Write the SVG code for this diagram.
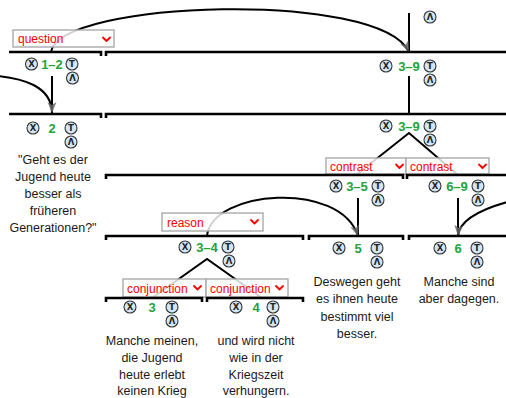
<svg xmlns="http://www.w3.org/2000/svg" width="506" height="398" viewBox="0 0 506 398">
<style>
.seg{fill:none;stroke:#000;stroke-width:2.6}
.ln{fill:none;stroke:#000;stroke-width:2}
.arc{fill:none;stroke:#000;stroke-width:2;marker-end:url(#ah)}
.ic circle{fill:#d3e6f6;stroke:#333;stroke-width:1.1}
.ic text{font-family:"DejaVu Sans",sans-serif;font-size:8.5px;font-weight:bold;fill:#222;text-anchor:middle}
.lab{font-family:"Liberation Sans",Arial,sans-serif;font-size:13px;font-weight:bold;fill:#21a33c;text-anchor:middle}
.tx{font-family:"Liberation Sans",Arial,sans-serif;font-size:12.5px;fill:#1a1a1a;text-anchor:middle}
.dd rect{fill:#fff;fill-opacity:0.82;stroke:#aaa;stroke-width:1.4}
.dd text{font-family:"Liberation Sans",Arial,sans-serif;font-size:12px;fill:#f00}
.dd path{fill:none;stroke:#f00;stroke-width:1.8;stroke-linecap:round;stroke-linejoin:round}
</style>
<defs>
<marker id="ah" markerUnits="userSpaceOnUse" markerWidth="12" markerHeight="10" refX="11" refY="4.5" orient="auto">
<path d="M0,0 L11,4.5 L0,9 L3,4.5 z" fill="#666" fill-opacity="0.85"/>
</marker>
<g id="ix" class="ic"><circle r="6"/><text y="3.1">X</text></g>
<g id="it" class="ic"><circle r="6"/><text y="3.1">T</text></g>
<g id="il" class="ic"><circle r="6"/><text y="3.1">Λ</text></g>
</defs>

<g id="connectors">
<path class="ln" d="M409,13 V52"/>
<path class="ln" d="M52,76 V114"/>
<path class="ln" d="M409,76 V114"/>
<path class="ln" d="M356,175 L409,133 L458,175"/>
<path class="ln" d="M358,198 V236"/>
<path class="ln" d="M458,198 V236"/>
<path class="ln" d="M152,298 L207,259 L262,298"/>
<path class="arc" d="M51,52 C60,0 380,-10 409,52"/>
<path class="arc" d="M-30,75 C30,74 52,90 52,113"/>
<path class="arc" d="M207,236 C212,190 340,180 358,236"/>
<path class="arc" d="M515,200 C475,210 459,222 458,236"/>
</g>

<g id="relation-labels">
<g class="dd"><rect x="13" y="30" width="101" height="17"/><text x="18" y="43">question</text><path d="M103,37.5 L106.5,41 L110,37.5"/></g>
<g class="dd"><rect x="326" y="158" width="80" height="16"/><text x="330" y="170.5">contrast</text><path d="M396,164.5 L399.5,168 L403,164.5"/></g>
<g class="dd"><rect x="406" y="158" width="83" height="16"/><text x="410" y="170.5">contrast</text><path d="M479,164.5 L482.5,168 L486,164.5"/></g>
<g class="dd"><rect x="162" y="213" width="101" height="18"/><text x="167" y="226.5">reason</text><path d="M251,220 L254.5,223.5 L258,220"/></g>
<g class="dd"><rect x="123" y="279" width="83" height="18"/><text x="127" y="292.5">conjunction</text><path d="M194,286 L197.5,289.5 L201,286"/></g>
<g class="dd"><rect x="206" y="279" width="82" height="18"/><text x="210" y="292.5">conjunction</text><path d="M276,286 L279.5,289.5 L283,286"/></g>
</g>

<g id="node-root">
<use href="#il" x="430" y="17"/>
</g>

<g id="node-1-2">
<path class="seg" d="M9,52 H101 V56"/>
<use href="#ix" x="31.5" y="64"/><text class="lab" x="52" y="68.5">1–2</text><use href="#it" x="72" y="64"/><use href="#il" x="72.5" y="78"/>
</g>

<g id="node-3-9-a">
<path class="seg" d="M106,56 V52 H506"/>
<use href="#ix" x="386" y="66"/><text class="lab" x="409" y="70.5">3–9</text><use href="#it" x="430" y="66"/><use href="#il" x="430" y="80"/>
</g>

<g id="node-2">
<path class="seg" d="M9,114 H101 V118"/>
<use href="#ix" x="33" y="128"/><text class="lab" x="52" y="132.5">2</text><use href="#it" x="71" y="128"/><use href="#il" x="71" y="142"/>
<text class="tx" x="53" y="164">"Geht es der</text>
<text class="tx" x="53" y="181">Jugend heute</text>
<text class="tx" x="53" y="198">besser als</text>
<text class="tx" x="53" y="215">früheren</text>
<text class="tx" x="53" y="232">Generationen?"</text>
</g>

<g id="node-3-9-b">
<path class="seg" d="M106,118 V114 H506"/>
<use href="#ix" x="386" y="126"/><text class="lab" x="409" y="130.5">3–9</text><use href="#it" x="430" y="126"/><use href="#il" x="430" y="140"/>
</g>

<g id="node-3-5">
<path class="seg" d="M106,179 V175 H403 V179"/>
<use href="#ix" x="336" y="186"/><text class="lab" x="357" y="190.5">3–5</text><use href="#it" x="378" y="186"/><use href="#il" x="378" y="200"/>
</g>

<g id="node-6-9">
<path class="seg" d="M407,179 V175 H506"/>
<use href="#ix" x="435" y="186"/><text class="lab" x="457" y="190.5">6–9</text><use href="#it" x="478" y="186"/><use href="#il" x="478" y="200"/>
</g>

<g id="node-3-4">
<path class="seg" d="M106,240 V236 H303 V240"/>
<use href="#ix" x="185" y="247"/><text class="lab" x="207" y="251.5">3–4</text><use href="#it" x="228" y="247"/><use href="#il" x="229" y="261"/>
</g>

<g id="node-5">
<path class="seg" d="M309,240 V236 H403 V240"/>
<use href="#ix" x="339" y="248"/><text class="lab" x="358" y="252.5">5</text><use href="#it" x="377" y="248"/><use href="#il" x="377" y="262"/>
<text class="tx" x="357" y="285.5">Deswegen geht</text>
<text class="tx" x="357" y="303">es ihnen heute</text>
<text class="tx" x="357" y="320.5">bestimmt viel</text>
<text class="tx" x="357" y="338">besser.</text>
</g>

<g id="node-6">
<path class="seg" d="M409,240 V236 H506"/>
<use href="#ix" x="440" y="248"/><text class="lab" x="458" y="252.5">6</text><use href="#it" x="477" y="248"/><use href="#il" x="477" y="262"/>
<text class="tx" x="459" y="285.5">Manche sind</text>
<text class="tx" x="459" y="303">aber dagegen.</text>
</g>

<g id="node-3">
<path class="seg" d="M106,302 V298 H202 V302"/>
<use href="#ix" x="130" y="307"/><text class="lab" x="152" y="311.5">3</text><use href="#it" x="172" y="307"/><use href="#il" x="172" y="321"/>
<text class="tx" x="152" y="344.5">Manche meinen,</text>
<text class="tx" x="152" y="361.5">die Jugend</text>
<text class="tx" x="152" y="378.5">heute erlebt</text>
<text class="tx" x="152" y="395">keinen Krieg</text>
</g>

<g id="node-4">
<path class="seg" d="M207,302 V298 H303 V302"/>
<use href="#ix" x="236" y="307"/><text class="lab" x="256" y="311.5">4</text><use href="#it" x="273" y="307"/><use href="#il" x="273" y="321"/>
<text class="tx" x="256" y="344.5">und wird nicht</text>
<text class="tx" x="256" y="361.5">wie in der</text>
<text class="tx" x="256" y="378.5">Kriegszeit</text>
<text class="tx" x="256" y="395">verhungern.</text>
</g>
</svg>
